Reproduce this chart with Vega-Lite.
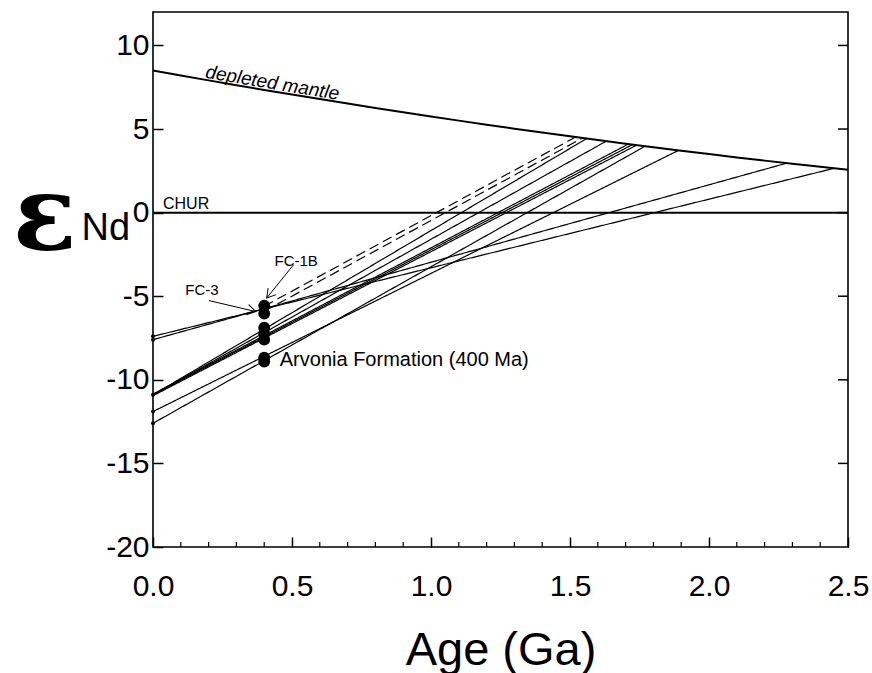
{
  "$schema": "https://vega.github.io/schema/vega-lite/v6.json",
  "width": 695,
  "height": 535,
  "autosize": {"type": "none"},
  "padding": {"left": 153, "top": 12, "right": 24, "bottom": 126},
  "background": "white",
  "config": {"view": {"stroke": "black", "strokeWidth": 1.6}, "font": "Liberation Sans"},
  "datasets": {
    "dm": [
      {"age": 0.0, "eps": 8.5}, {"age": 0.1, "eps": 8.2025}, {"age": 0.2, "eps": 7.91}, {"age": 0.3, "eps": 7.6225},
      {"age": 0.4, "eps": 7.34}, {"age": 0.5, "eps": 7.0625}, {"age": 0.6, "eps": 6.79}, {"age": 0.7, "eps": 6.5225},
      {"age": 0.8, "eps": 6.26}, {"age": 0.9, "eps": 6.0025}, {"age": 1.0, "eps": 5.75}, {"age": 1.1, "eps": 5.5025},
      {"age": 1.2, "eps": 5.26}, {"age": 1.3, "eps": 5.0225}, {"age": 1.4, "eps": 4.79}, {"age": 1.5, "eps": 4.5625},
      {"age": 1.6, "eps": 4.34}, {"age": 1.7, "eps": 4.1225}, {"age": 1.8, "eps": 3.91}, {"age": 1.9, "eps": 3.7025},
      {"age": 2.0, "eps": 3.5}, {"age": 2.1, "eps": 3.3025}, {"age": 2.2, "eps": 3.11}, {"age": 2.3, "eps": 2.9225},
      {"age": 2.4, "eps": 2.74}, {"age": 2.5, "eps": 2.5625}
    ],
    "chur": [{"age": 0, "age2": 2.5, "eps": 0}],
    "lines": [
      {"id": "L1", "style": "solid", "age": 0, "eps": -7.4}, {"id": "L1", "style": "solid", "age": 2.45, "eps": 2.65},
      {"id": "L2", "style": "solid", "age": 0, "eps": -7.6}, {"id": "L2", "style": "solid", "age": 2.28, "eps": 2.96},
      {"id": "L3", "style": "solid", "age": 0, "eps": -10.9}, {"id": "L3", "style": "solid", "age": 1.56, "eps": 4.43},
      {"id": "L4", "style": "solid", "age": 0, "eps": -10.9}, {"id": "L4", "style": "solid", "age": 1.63, "eps": 4.27},
      {"id": "L5", "style": "solid", "age": 0, "eps": -10.85}, {"id": "L5", "style": "solid", "age": 1.71, "eps": 4.10},
      {"id": "L6", "style": "solid", "age": 0, "eps": -10.9}, {"id": "L6", "style": "solid", "age": 1.725, "eps": 4.07},
      {"id": "L7", "style": "solid", "age": 0, "eps": -10.95}, {"id": "L7", "style": "solid", "age": 1.74, "eps": 4.04},
      {"id": "L8", "style": "solid", "age": 0, "eps": -12.6}, {"id": "L8", "style": "solid", "age": 1.77, "eps": 3.97},
      {"id": "L9", "style": "solid", "age": 0, "eps": -11.9}, {"id": "L9", "style": "solid", "age": 1.89, "eps": 3.72},
      {"id": "D1", "style": "dashed", "age": 0.4, "eps": -5.6}, {"id": "D1", "style": "dashed", "age": 1.52, "eps": 4.52},
      {"id": "D2", "style": "dashed", "age": 0.4, "eps": -5.9}, {"id": "D2", "style": "dashed", "age": 1.545, "eps": 4.46}
    ],
    "samples": [
      {"age": 0.4, "eps": -5.56}, {"age": 0.4, "eps": -6.04},
      {"age": 0.4, "eps": -6.88}, {"age": 0.4, "eps": -7.24}, {"age": 0.4, "eps": -7.6},
      {"age": 0.4, "eps": -8.67}, {"age": 0.4, "eps": -8.91}
    ],
    "present": [
      {"age": 0, "eps": -7.4}, {"age": 0, "eps": -7.6}, {"age": 0, "eps": -10.9},
      {"age": 0, "eps": -11.9}, {"age": 0, "eps": -12.6}
    ],
    "minor": [
      {"age": 0.1}, {"age": 0.2}, {"age": 0.3}, {"age": 0.4}, {"age": 0.6}, {"age": 0.7}, {"age": 0.8}, {"age": 0.9},
      {"age": 1.1}, {"age": 1.2}, {"age": 1.3}, {"age": 1.4}, {"age": 1.6}, {"age": 1.7}, {"age": 1.8}, {"age": 1.9},
      {"age": 2.1}, {"age": 2.2}, {"age": 2.3}, {"age": 2.4}
    ],
    "rticks": [{"eps": -15}, {"eps": -10}, {"eps": -5}, {"eps": 0}, {"eps": 5}, {"eps": 10}],
    "arrows": [
      {"name": "FC-3", "age": 0.201, "eps": -5.26, "age2": 0.37, "eps2": -5.92},
      {"name": "FC-1B", "age": 0.506, "eps": -3.11, "age2": 0.409, "eps2": -5.11}
    ],
    "head3": [{"age": 0.37, "eps": -5.92}],
    "head1b": [{"age": 0.409, "eps": -5.11}],
    "fclabels": [
      {"label": "FC-3", "age": 0.176, "eps": -4.6},
      {"label": "FC-1B", "age": 0.515, "eps": -2.87}
    ],
    "churlabel": [{"label": "CHUR", "age": 0.036, "eps": 0.2}],
    "dmlabel": [{"label": "depleted mantle", "age": 0.426, "eps": 7.4}],
    "arvonia": [{"label": "Arvonia Formation (400 Ma)", "age": 0.456, "eps": -8.8}],
    "epsilon": [{"label": "ε", "age": -0.39, "eps": -2.25}],
    "nd": [{"label": "Nd", "age": -0.257, "eps": -1.65}]
  },
  "layer": [
    {
      "data": {"name": "dm"},
      "mark": {"type": "line", "color": "black", "strokeWidth": 2},
      "encoding": {
        "x": {
          "field": "age", "type": "quantitative",
          "scale": {"domain": [0, 2.5], "nice": false, "zero": false},
          "axis": {
            "orient": "bottom", "values": [0, 0.5, 1, 1.5, 2, 2.5], "format": ".1f",
            "tickSize": -10, "tickColor": "black", "tickWidth": 1.5, "domain": false, "grid": false,
            "labelFontSize": 30, "labelFont": "Liberation Sans", "labelColor": "black", "labelPadding": 34,
            "labelFlush": false, "labelOverlap": false,
            "title": "Age (Ga)", "titleFontSize": 47, "titleFont": "Liberation Sans", "titleFontWeight": "normal",
            "titleColor": "black", "titlePadding": 26
          }
        },
        "y": {
          "field": "eps", "type": "quantitative",
          "scale": {"domain": [-20, 12], "nice": false, "zero": false},
          "axis": {
            "orient": "left", "values": [-20, -15, -10, -5, 0, 5, 10],
            "labelExpr": "datum.value < 0 ? '-' + abs(datum.value) : '' + datum.value",
            "tickSize": -10, "tickColor": "black", "tickWidth": 1.5, "domain": false, "grid": false,
            "labelFontSize": 30, "labelFont": "Liberation Sans", "labelColor": "black", "labelPadding": 14,
            "labelOverlap": false, "title": null
          }
        }
      }
    },
    {
      "data": {"name": "chur"},
      "mark": {"type": "rule", "color": "black", "strokeWidth": 2},
      "encoding": {
        "x": {"field": "age", "type": "quantitative"},
        "x2": {"field": "age2"},
        "y": {"field": "eps", "type": "quantitative"}
      }
    },
    {
      "data": {"name": "minor"},
      "mark": {"type": "rule", "color": "black", "strokeWidth": 1.2},
      "encoding": {
        "x": {"field": "age", "type": "quantitative"},
        "y": {"datum": -20},
        "y2": {"datum": -19.7}
      }
    },
    {
      "data": {"name": "rticks"},
      "mark": {"type": "rule", "color": "black", "strokeWidth": 1.5},
      "encoding": {
        "x": {"datum": 2.464},
        "x2": {"datum": 2.5},
        "y": {"field": "eps", "type": "quantitative"}
      }
    },
    {
      "data": {"name": "lines"},
      "mark": {"type": "line", "color": "black", "strokeWidth": 1.2},
      "encoding": {
        "x": {"field": "age", "type": "quantitative"},
        "y": {"field": "eps", "type": "quantitative"},
        "detail": {"field": "id"},
        "strokeDash": {
          "field": "style", "type": "nominal",
          "scale": {"domain": ["solid", "dashed"], "range": [[1, 0], [10, 5]]},
          "legend": null
        }
      }
    },
    {
      "data": {"name": "present"},
      "mark": {"type": "point", "shape": "circle", "filled": true, "color": "black", "size": 16, "opacity": 1},
      "encoding": {
        "x": {"field": "age", "type": "quantitative"},
        "y": {"field": "eps", "type": "quantitative"}
      }
    },
    {
      "data": {"name": "samples"},
      "mark": {"type": "point", "shape": "circle", "filled": true, "color": "black", "size": 140, "opacity": 1},
      "encoding": {
        "x": {"field": "age", "type": "quantitative"},
        "y": {"field": "eps", "type": "quantitative"}
      }
    },
    {
      "data": {"name": "arrows"},
      "mark": {"type": "rule", "color": "black", "strokeWidth": 1},
      "encoding": {
        "x": {"field": "age", "type": "quantitative"},
        "y": {"field": "eps", "type": "quantitative"},
        "x2": {"field": "age2"},
        "y2": {"field": "eps2"}
      }
    },
    {
      "data": {"name": "head3"},
      "mark": {"type": "point", "shape": "M-1,-0.6L0,0L-1,0.6", "filled": false, "color": "black", "strokeWidth": 1, "size": 300, "angle": 13, "opacity": 1},
      "encoding": {
        "x": {"field": "age", "type": "quantitative"},
        "y": {"field": "eps", "type": "quantitative"}
      }
    },
    {
      "data": {"name": "head1b"},
      "mark": {"type": "point", "shape": "M-1,-0.6L0,0L-1,0.6", "filled": false, "color": "black", "strokeWidth": 1, "size": 300, "angle": 129, "opacity": 1},
      "encoding": {
        "x": {"field": "age", "type": "quantitative"},
        "y": {"field": "eps", "type": "quantitative"}
      }
    },
    {
      "data": {"name": "fclabels"},
      "mark": {"type": "text", "font": "Liberation Sans", "fontSize": 15, "color": "black", "align": "center", "baseline": "middle"},
      "encoding": {
        "x": {"field": "age", "type": "quantitative"},
        "y": {"field": "eps", "type": "quantitative"},
        "text": {"field": "label"}
      }
    },
    {
      "data": {"name": "churlabel"},
      "mark": {"type": "text", "font": "Liberation Sans", "fontSize": 16, "color": "black", "align": "left", "baseline": "alphabetic"},
      "encoding": {
        "x": {"field": "age", "type": "quantitative"},
        "y": {"field": "eps", "type": "quantitative"},
        "text": {"field": "label"}
      }
    },
    {
      "data": {"name": "dmlabel"},
      "mark": {"type": "text", "font": "Liberation Sans", "fontSize": 19, "fontStyle": "italic", "color": "black", "align": "center", "baseline": "alphabetic", "angle": 9.5},
      "encoding": {
        "x": {"field": "age", "type": "quantitative"},
        "y": {"field": "eps", "type": "quantitative"},
        "text": {"field": "label"}
      }
    },
    {
      "data": {"name": "arvonia"},
      "mark": {"type": "text", "font": "Liberation Sans", "fontSize": 20, "color": "black", "align": "left", "baseline": "middle"},
      "encoding": {
        "x": {"field": "age", "type": "quantitative"},
        "y": {"field": "eps", "type": "quantitative"},
        "text": {"field": "label"}
      }
    },
    {
      "data": {"name": "epsilon"},
      "mark": {"type": "text", "font": "DejaVu Serif", "fontSize": 105, "fontWeight": "bold", "color": "black", "align": "center", "baseline": "alphabetic"},
      "encoding": {
        "x": {"field": "age", "type": "quantitative"},
        "y": {"field": "eps", "type": "quantitative"},
        "text": {"field": "label"}
      }
    },
    {
      "data": {"name": "nd"},
      "mark": {"type": "text", "font": "Liberation Sans", "fontSize": 38, "color": "black", "align": "left", "baseline": "alphabetic"},
      "encoding": {
        "x": {"field": "age", "type": "quantitative"},
        "y": {"field": "eps", "type": "quantitative"},
        "text": {"field": "label"}
      }
    }
  ]
}
